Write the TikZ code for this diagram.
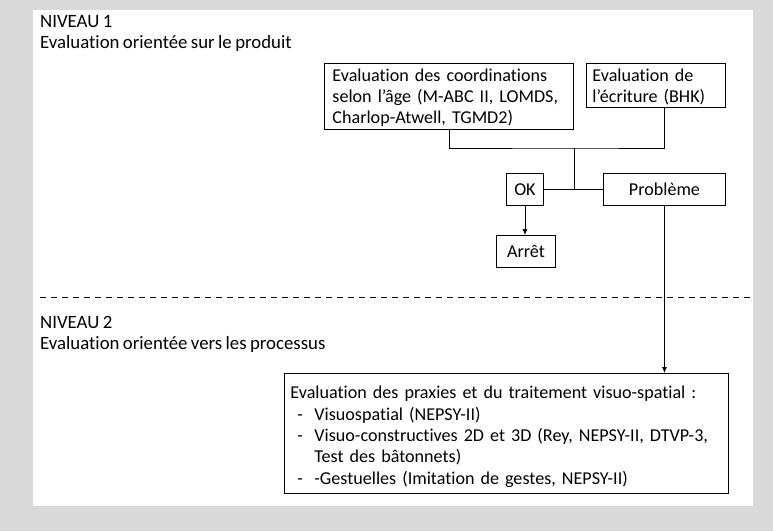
\documentclass[tikz,border=0pt]{standalone}
\usepackage{fontspec}
\setmainfont{Carlito}[Ligatures=NoCommon,WordSpace=0.8]
\usetikzlibrary{arrows.meta}
\definecolor{bggray}{HTML}{D9D9D9}
\begin{document}
\begin{tikzpicture}
[x=1pt,y=-1pt,
  font=\fontsize{18.1}{21.3}\selectfont,
  nodedecorate/.style={draw=black,line width=0.9pt,inner ysep=0pt,anchor=north west,align=left},
  textdecorate/.style={inner sep=0pt,anchor=base west,font=\fontsize{18.8}{22}\selectfont},
  linedecorate/.style={-,line width=0.9pt},
  arrowdecorate/.style={-{Latex[length=6pt,width=5pt]},line width=0.9pt}]
%% background and page
\useasboundingbox (0,0) rectangle (773,531);
\fill[bggray] (0,0) rectangle (773,531);
\fill[white] (33,10) rectangle (753,506);
%% level titles
\node (niv1) [textdecorate] at (40,27) {NIVEAU 1};
\node (prod) [textdecorate] at (40,48) {Evaluation orientée sur le produit};
\node (niv2) [textdecorate] at (40,328) {NIVEAU 2};
\node (proc) [textdecorate] at (40,349) {Evaluation orientée vers les processus};
%% nodes or boxes
\node (coord) [nodedecorate,text width=233pt,inner xsep=8pt,minimum height=66pt]
  at (324,63) {\rule{0pt}{15pt}Evaluation des coordinations\\selon l’âge (M-ABC II, LOMDS,\\Charlop-Atwell, TGMD2)};
\node (ecrit) [nodedecorate,text width=127pt,inner xsep=6pt,minimum height=44pt]
  at (586,63) {\rule{0pt}{15pt}Evaluation de\\l’écriture (BHK)};
\foreach \nodename/\txt/\x/\y/\w in {ok/OK/506/173/37, prob/Problème/603/173/122,
  arret/Arrêt/496/235/59} {
  \node (\nodename) [nodedecorate,align=center,inner xsep=0pt,minimum width=\w pt,
    minimum height=32pt] at (\x,\y) {\txt};
}
\node (praxie) [nodedecorate,text width=432pt,inner xsep=6pt,minimum height=120pt]
  at (284,373) {\rule{0pt}{19pt}Evaluation des praxies et du traitement visuo-spatial :\\
  \makebox[24pt][l]{\hspace{7pt}-}Visuospatial (NEPSY-II)\\
  \makebox[24pt][l]{\hspace{7pt}-}Visuo-constructives 2D et 3D (Rey, NEPSY-II, DTVP-3,\\
  \makebox[24pt][l]{}Test des bâtonnets)\\
  \makebox[24pt][l]{\hspace{7pt}-}-Gestuelles (Imitation de gestes, NEPSY-II)};
%% level separator
\coordinate (sepl) at (40,297);
\coordinate (sepr) at (753,297);
\draw[linedecorate,dash pattern=on 6pt off 5pt] (sepl) -- (sepr);
%% edges or lines
\coordinate (junc) at (574,148);
\draw[linedecorate] (coord.south) |- (junc) -| (prob.north |- ecrit.south);
\draw[linedecorate] (junc) -- (junc |- ok.east);
\draw[linedecorate] (ok.east) -- (prob.west);
\draw[arrowdecorate] (ok.south) -- (ok.south |- arret.north);
\draw[arrowdecorate] (prob.south) -- (prob.south |- praxie.north);
\end{tikzpicture}
\end{document}
